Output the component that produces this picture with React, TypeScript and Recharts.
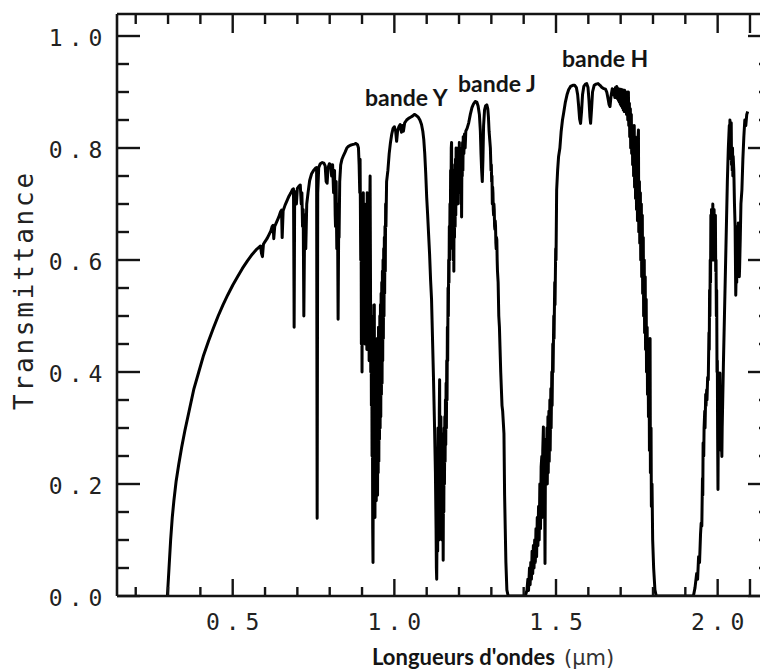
import React from 'react';
import { LineChart, Line, XAxis, YAxis } from 'recharts';

// ---- data (wavelength in µm, transmittance) ----
const visibleRise: [number, number][] = [
  [0.298, 0], [0.303, 0.05], [0.308, 0.1], [0.313, 0.14], [0.318, 0.17], [0.325, 0.205], [0.333, 0.235],
  [0.342, 0.265], [0.352, 0.295], [0.365, 0.33], [0.38, 0.37], [0.395, 0.4], [0.41, 0.43], [0.425, 0.455],
  [0.44, 0.478], [0.455, 0.5], [0.47, 0.52], [0.485, 0.538], [0.5, 0.555], [0.515, 0.57], [0.53, 0.585],
  [0.545, 0.598], [0.56, 0.61], [0.572, 0.618], [0.58, 0.622], [0.586, 0.625], [0.589, 0.612], [0.592, 0.606],
  [0.595, 0.628], [0.6, 0.633], [0.606, 0.638], [0.612, 0.645], [0.618, 0.652], [0.622, 0.66], [0.625, 0.662],
  [0.627, 0.638], [0.63, 0.66], [0.636, 0.668], [0.642, 0.676], [0.648, 0.686], [0.651, 0.689], [0.653, 0.64],
  [0.656, 0.688], [0.662, 0.698], [0.668, 0.706], [0.674, 0.714], [0.68, 0.72], [0.685, 0.726], [0.688, 0.727],
];

const redAbsorption: [number, number][] = [
  [0.6895, 0.55], [0.69, 0.48], [0.6915, 0.7], [0.693, 0.722], [0.697, 0.7], [0.7, 0.728], [0.705, 0.732],
  [0.709, 0.734], [0.712, 0.7], [0.714, 0.72], [0.716, 0.66], [0.718, 0.69], [0.72, 0.5], [0.7215, 0.6],
  [0.723, 0.68], [0.726, 0.62], [0.729, 0.7], [0.733, 0.72], [0.738, 0.742], [0.744, 0.754], [0.75, 0.76],
  [0.756, 0.764], [0.7595, 0.765], [0.7612, 0.139], [0.763, 0.72], [0.766, 0.765], [0.771, 0.772],
  [0.777, 0.774], [0.782, 0.773], [0.786, 0.768], [0.789, 0.74], [0.792, 0.737], [0.795, 0.765],
  [0.799, 0.772], [0.803, 0.77], [0.806, 0.75], [0.809, 0.77], [0.812, 0.72], [0.815, 0.76], [0.817, 0.68],
  [0.818, 0.66], [0.82, 0.74], [0.821, 0.67], [0.822, 0.62], [0.824, 0.7], [0.825, 0.6], [0.826, 0.494],
  [0.828, 0.68], [0.829, 0.64], [0.831, 0.74], [0.834, 0.77],
  [0.838, 0.78], [0.843, 0.787], [0.848, 0.793], [0.853, 0.8], [0.858, 0.803], [0.864, 0.805], [0.87, 0.806],
  [0.876, 0.807], [0.881, 0.808], [0.886, 0.806], [0.889, 0.8], [0.891, 0.77],
  [0.893, 0.72], [0.894, 0.78], [0.896, 0.6], [0.897, 0.7], [0.898, 0.45], [0.899, 0.62], [0.9, 0.4],
  [0.901, 0.6], [0.902, 0.7], [0.903, 0.5], [0.904, 0.72], [0.905, 0.48], [0.906, 0.66], [0.907, 0.5],
  [0.908, 0.7], [0.909, 0.45], [0.91, 0.62], [0.911, 0.46], [0.912, 0.68], [0.913, 0.5], [0.914, 0.64],
  [0.915, 0.44], [0.916, 0.72], [0.917, 0.5], [0.918, 0.44], [0.919, 0.66], [0.92, 0.45], [0.921, 0.6],
  [0.922, 0.42], [0.923, 0.66], [0.924, 0.7], [0.925, 0.75], [0.926, 0.6], [0.927, 0.4], [0.928, 0.52],
  [0.929, 0.34], [0.93, 0.5], [0.931, 0.25], [0.932, 0.4], [0.933, 0.12], [0.934, 0.06], [0.935, 0.3],
  [0.936, 0.42], [0.937, 0.2], [0.938, 0.52], [0.939, 0.25], [0.94, 0.14], [0.941, 0.4], [0.942, 0.2],
  [0.943, 0.44], [0.944, 0.17], [0.945, 0.4], [0.946, 0.2], [0.947, 0.46], [0.948, 0.18], [0.949, 0.42],
  [0.95, 0.22], [0.951, 0.48], [0.952, 0.24], [0.953, 0.46], [0.954, 0.28], [0.955, 0.5], [0.956, 0.3],
  [0.957, 0.52], [0.958, 0.32], [0.959, 0.54], [0.96, 0.36], [0.961, 0.56], [0.962, 0.38], [0.963, 0.58],
  [0.964, 0.42], [0.965, 0.6], [0.966, 0.46], [0.967, 0.62], [0.968, 0.5], [0.969, 0.64], [0.97, 0.54],
  [0.971, 0.66], [0.972, 0.58], [0.973, 0.7], [0.974, 0.66], [0.976, 0.74], [0.98, 0.76], [0.984, 0.79],
  [0.988, 0.81], [0.992, 0.825], [0.996, 0.835],
];

const bandY: [number, number][] = [
  [1.0, 0.838], [1.004, 0.83], [1.007, 0.812], [1.01, 0.83], [1.014, 0.838], [1.018, 0.842], [1.022, 0.828],
  [1.025, 0.84], [1.028, 0.83], [1.032, 0.845], [1.038, 0.85], [1.044, 0.853], [1.05, 0.855], [1.056, 0.857],
  [1.062, 0.86], [1.068, 0.858], [1.074, 0.855], [1.079, 0.85], [1.084, 0.842], [1.088, 0.83], [1.091, 0.815],
  [1.094, 0.79], [1.097, 0.755], [1.1, 0.712], [1.103, 0.68], [1.106, 0.645], [1.109, 0.61], [1.112, 0.565],
  [1.115, 0.53], [1.118, 0.46], [1.121, 0.39], [1.124, 0.31], [1.127, 0.22], [1.129, 0.12], [1.13, 0.05],
  [1.131, 0.03], [1.132, 0.12], [1.133, 0.2], [1.134, 0.08], [1.135, 0.3], [1.136, 0.15], [1.137, 0.26],
  [1.138, 0.1], [1.139, 0.33], [1.14, 0.386], [1.141, 0.2], [1.142, 0.3], [1.143, 0.12], [1.144, 0.32],
  [1.145, 0.18], [1.146, 0.29], [1.147, 0.1], [1.148, 0.26], [1.149, 0.12], [1.15, 0.2], [1.151, 0.064],
  [1.152, 0.22], [1.153, 0.15], [1.154, 0.3], [1.155, 0.2], [1.156, 0.32], [1.157, 0.24], [1.158, 0.35],
  [1.159, 0.27], [1.16, 0.38], [1.161, 0.3], [1.162, 0.42], [1.163, 0.35], [1.164, 0.48], [1.165, 0.42],
  [1.166, 0.55], [1.167, 0.5], [1.168, 0.6], [1.169, 0.56], [1.17, 0.66], [1.171, 0.6], [1.172, 0.7],
  [1.173, 0.62], [1.174, 0.76], [1.175, 0.68], [1.176, 0.8], [1.177, 0.81], [1.178, 0.66], [1.179, 0.74],
  [1.18, 0.62], [1.181, 0.76], [1.182, 0.6], [1.183, 0.72], [1.184, 0.58], [1.185, 0.74], [1.186, 0.64],
  [1.187, 0.77], [1.188, 0.66], [1.189, 0.78], [1.19, 0.68], [1.191, 0.8], [1.192, 0.7], [1.193, 0.796],
  [1.194, 0.72], [1.195, 0.79], [1.196, 0.7], [1.197, 0.8], [1.198, 0.73], [1.199, 0.8], [1.2, 0.74],
  [1.201, 0.81], [1.202, 0.74], [1.203, 0.8], [1.204, 0.72], [1.205, 0.79], [1.206, 0.7], [1.207, 0.78],
  [1.208, 0.677], [1.209, 0.79], [1.21, 0.75], [1.211, 0.81], [1.212, 0.76], [1.213, 0.82], [1.215, 0.79],
  [1.217, 0.825], [1.219, 0.8], [1.221, 0.83],
];

const bandJ: [number, number][] = [
  [1.225, 0.835], [1.23, 0.845], [1.235, 0.86], [1.24, 0.872], [1.245, 0.879], [1.25, 0.883], [1.255, 0.882],
  [1.259, 0.875], [1.263, 0.86], [1.266, 0.83], [1.268, 0.79], [1.27, 0.76], [1.272, 0.74], [1.274, 0.78],
  [1.276, 0.84], [1.279, 0.868], [1.282, 0.875], [1.286, 0.877], [1.289, 0.87], [1.291, 0.855], [1.293, 0.83],
  [1.295, 0.815], [1.297, 0.8], [1.298, 0.78], [1.299, 0.76], [1.3, 0.77], [1.301, 0.74], [1.302, 0.75],
  [1.303, 0.7], [1.304, 0.73], [1.305, 0.72], [1.306, 0.69], [1.307, 0.68], [1.308, 0.7], [1.309, 0.69],
  [1.31, 0.66], [1.311, 0.655], [1.312, 0.67], [1.313, 0.66], [1.314, 0.63], [1.315, 0.62], [1.316, 0.64],
  [1.317, 0.636], [1.318, 0.6], [1.319, 0.58], [1.321, 0.56], [1.323, 0.5], [1.325, 0.48], [1.327, 0.44],
  [1.329, 0.4], [1.331, 0.37], [1.333, 0.34], [1.335, 0.33], [1.337, 0.31], [1.339, 0.29], [1.341, 0.18],
  [1.343, 0.12], [1.345, 0.06], [1.348, 0.011], [1.352, 0],
  [1.405, 0], [1.41, 0.01], [1.413, 0.03], [1.415, 0.01], [1.418, 0.05], [1.42, 0.02], [1.422, 0.06],
  [1.424, 0.03], [1.426, 0.08], [1.428, 0.04], [1.43, 0.09], [1.432, 0.05], [1.434, 0.1], [1.436, 0.06],
  [1.438, 0.12], [1.44, 0.07], [1.442, 0.14], [1.444, 0.09], [1.446, 0.16], [1.448, 0.1], [1.45, 0.2],
  [1.452, 0.12], [1.454, 0.23], [1.456, 0.249], [1.457, 0.14], [1.459, 0.26], [1.461, 0.302], [1.462, 0.18],
  [1.464, 0.26], [1.466, 0.058], [1.467, 0.2], [1.469, 0.28], [1.47, 0.2], [1.472, 0.3], [1.473, 0.2],
  [1.475, 0.32], [1.476, 0.22], [1.478, 0.33], [1.479, 0.24], [1.481, 0.35], [1.482, 0.26], [1.484, 0.37],
  [1.485, 0.3], [1.487, 0.4], [1.488, 0.34], [1.49, 0.45], [1.491, 0.4], [1.493, 0.5], [1.494, 0.46],
  [1.496, 0.56], [1.497, 0.52], [1.499, 0.62], [1.5, 0.6], [1.502, 0.725], [1.505, 0.76], [1.508, 0.785],
];

const bandH: [number, number][] = [
  [1.512, 0.8], [1.516, 0.83], [1.52, 0.85], [1.524, 0.864], [1.529, 0.882], [1.534, 0.895], [1.539, 0.904],
  [1.545, 0.91], [1.552, 0.912], [1.558, 0.912], [1.563, 0.908], [1.567, 0.895], [1.57, 0.875], [1.573, 0.852],
  [1.576, 0.844], [1.579, 0.865], [1.582, 0.895], [1.586, 0.91], [1.591, 0.914], [1.595, 0.915], [1.599, 0.908],
  [1.602, 0.885], [1.605, 0.855], [1.607, 0.844], [1.61, 0.87], [1.613, 0.9], [1.618, 0.912], [1.624, 0.914],
  [1.63, 0.915], [1.636, 0.912], [1.642, 0.908], [1.648, 0.906], [1.653, 0.905], [1.657, 0.9], [1.661, 0.888],
  [1.664, 0.878], [1.667, 0.874], [1.67, 0.892], [1.674, 0.906], [1.677, 0.895], [1.679, 0.904], [1.682, 0.89],
  [1.684, 0.908], [1.686, 0.892], [1.688, 0.91], [1.69, 0.888], [1.691, 0.9], [1.693, 0.885], [1.694, 0.906],
  [1.696, 0.882], [1.697, 0.9], [1.699, 0.878], [1.7, 0.905], [1.702, 0.875], [1.703, 0.9], [1.705, 0.872],
  [1.706, 0.904], [1.708, 0.868], [1.709, 0.9], [1.711, 0.865], [1.712, 0.903], [1.714, 0.87], [1.716, 0.9],
  [1.718, 0.86], [1.72, 0.9], [1.722, 0.85], [1.724, 0.9], [1.725, 0.84], [1.727, 0.88], [1.728, 0.82],
  [1.73, 0.87], [1.731, 0.8], [1.733, 0.86], [1.734, 0.79], [1.736, 0.84], [1.737, 0.77], [1.739, 0.83],
  [1.74, 0.75], [1.742, 0.84], [1.743, 0.73], [1.745, 0.82], [1.746, 0.71], [1.748, 0.8], [1.749, 0.69],
  [1.751, 0.8], [1.752, 0.67], [1.754, 0.82], [1.755, 0.832], [1.756, 0.65], [1.758, 0.74], [1.759, 0.63],
  [1.761, 0.72], [1.762, 0.6], [1.764, 0.7], [1.765, 0.57], [1.767, 0.68], [1.768, 0.54], [1.77, 0.64],
  [1.771, 0.5], [1.773, 0.6], [1.774, 0.47], [1.776, 0.57], [1.777, 0.44], [1.779, 0.53], [1.78, 0.4],
  [1.782, 0.48], [1.783, 0.36], [1.785, 0.42], [1.786, 0.32], [1.788, 0.4], [1.789, 0.26], [1.791, 0.46],
  [1.792, 0.22], [1.794, 0.3], [1.795, 0.16], [1.797, 0.2], [1.799, 0.1], [1.802, 0.05], [1.806, 0.011],
  [1.81, 0], [1.92, 0],
];

const bandK: [number, number][] = [
  [1.925, 0], [1.93, 0.015], [1.935, 0.04], [1.938, 0.03], [1.941, 0.07], [1.944, 0.06], [1.947, 0.11],
  [1.949, 0.13], [1.951, 0.125], [1.953, 0.21], [1.954, 0.18], [1.955, 0.273], [1.957, 0.25], [1.958, 0.3],
  [1.96, 0.33], [1.961, 0.3], [1.963, 0.36], [1.964, 0.34], [1.966, 0.368], [1.967, 0.35], [1.969, 0.39],
  [1.971, 0.386], [1.973, 0.47], [1.974, 0.44], [1.975, 0.546], [1.976, 0.5], [1.977, 0.6], [1.978, 0.56],
  [1.979, 0.68], [1.98, 0.62], [1.981, 0.69], [1.982, 0.6], [1.983, 0.66], [1.984, 0.62], [1.985, 0.7],
  [1.986, 0.62], [1.987, 0.68], [1.988, 0.6], [1.989, 0.69], [1.99, 0.62], [1.991, 0.66], [1.992, 0.6],
  [1.993, 0.68], [1.994, 0.58], [1.995, 0.6], [1.996, 0.5], [1.997, 0.546], [1.998, 0.4], [1.999, 0.42],
  [2.0, 0.28], [2.001, 0.19], [2.002, 0.3], [2.003, 0.36], [2.004, 0.26], [2.005, 0.3], [2.006, 0.36],
  [2.007, 0.398], [2.008, 0.3], [2.009, 0.28], [2.01, 0.36], [2.011, 0.34], [2.012, 0.27], [2.013, 0.249],
  [2.014, 0.3], [2.015, 0.33], [2.018, 0.42], [2.021, 0.5], [2.024, 0.58], [2.027, 0.66], [2.03, 0.74],
  [2.033, 0.8], [2.036, 0.84], [2.037, 0.8], [2.038, 0.85], [2.039, 0.8], [2.04, 0.82], [2.041, 0.78],
  [2.042, 0.845], [2.043, 0.77], [2.044, 0.8], [2.045, 0.76], [2.046, 0.8], [2.047, 0.75], [2.048, 0.785],
  [2.05, 0.76], [2.052, 0.7], [2.054, 0.66], [2.056, 0.537], [2.058, 0.6], [2.059, 0.56], [2.06, 0.66],
  [2.061, 0.6], [2.062, 0.62], [2.063, 0.58], [2.064, 0.666], [2.065, 0.6], [2.066, 0.62], [2.067, 0.57],
  [2.068, 0.588], [2.07, 0.64], [2.072, 0.7], [2.075, 0.725], [2.078, 0.78], [2.081, 0.82], [2.084, 0.85],
  [2.087, 0.84], [2.09, 0.86], [2.093, 0.865],
];

// ---- axes ----
const xDomain: [number, number] = [0.1421, 2.165];
const yDomain: [number, number] = [0, 1.0393];
const xLabelTicks = [0.5, 1.0, 1.5, 2.0];
const xLongUnlabeledTicks = [2.1];
const xMinorTicks = [0.2, 0.3, 0.4, 0.6, 0.7, 0.8, 0.9, 1.1, 1.2, 1.3, 1.4, 1.6, 1.7, 1.8, 1.9];
const yLabelTicks = [0, 0.2, 0.4, 0.6, 0.8, 1.0];
const yMinorTicks = [0.05, 0.1, 0.15, 0.25, 0.3, 0.35, 0.45, 0.5, 0.55, 0.65, 0.7, 0.75, 0.85, 0.9, 0.95];

const xAllTicks = [...xLabelTicks, ...xLongUnlabeledTicks, ...xMinorTicks].sort((a, b) => a - b);
const yAllTicks = [...yLabelTicks, ...yMinorTicks].sort((a, b) => a - b);

const data = [...visibleRise, ...redAbsorption, ...bandY, ...bandJ, ...bandH, ...bandK].map(([w, t]) => ({ w, t }));

const INK = '#141414';
const MONO = '"DejaVu Sans Mono", monospace';
const SANS = 'Lato, "Open Sans", sans-serif';
const has = (arr: number[], v: number) => arr.some((a) => Math.abs(a - v) < 1e-6);

const BottomTick = (props: any) => {
  const { x, y, payload } = props;
  const v = payload.value;
  const labeled = has(xLabelTicks, v);
  const long = labeled || has(xLongUnlabeledTicks, v);
  return (
    <g>
      <line x1={x} x2={x} y1={y} y2={y - (long ? 17 : 9)} stroke={INK} strokeWidth={2.4} />
      {labeled && (
        <text x={x + 3} y={y + 34} textAnchor="middle" fontFamily={MONO} fontSize={23} letterSpacing={6} fill="#222">
          {v.toFixed(1)}
        </text>
      )}
    </g>
  );
};

const TopTick = (props: any) => {
  const { x, y, payload } = props;
  const v = payload.value;
  const long = has(xLabelTicks, v) || has(xLongUnlabeledTicks, v);
  return <line x1={x} x2={x} y1={y} y2={y + (long ? 19 : 10)} stroke={INK} strokeWidth={2.4} />;
};

const LeftTick = (props: any) => {
  const { x, y, payload } = props;
  const v = payload.value;
  const major = has(yLabelTicks, v);
  return (
    <g>
      <line x1={x} x2={x + (major ? 23 : 12)} y1={y} y2={y} stroke={INK} strokeWidth={2.4} />
      {major && (
        <text x={x - 8.6} y={y + 10} textAnchor="end" fontFamily={MONO} fontSize={23} letterSpacing={6} fill="#222">
          {v.toFixed(1)}
        </text>
      )}
    </g>
  );
};

const RightTick = (props: any) => {
  const { x, y, payload } = props;
  const v = payload.value;
  const major = has(yLabelTicks, v);
  return <line x1={x} x2={x - (major ? 23 : 12)} y1={y} y2={y} stroke={INK} strokeWidth={2.4} />;
};

const YTitle = () => (
  <text
    x={33}
    y={290}
    transform="rotate(-90 33 290)"
    textAnchor="middle"
    fontFamily={MONO}
    fontSize={26}
    letterSpacing={2.8}
    fill="#222"
  >
    Transmittance
  </text>
);

const XTitle = () => (
  <g>
    <text x={372} y={665} fontFamily={SANS} fontWeight={700} fontSize={22} fill={INK}>
      Longueurs d'ondes
    </text>
    <text x={564} y={665} fontFamily='"DejaVu Sans", sans-serif' fontSize={21} fill="#333">
      (µm)
    </text>
  </g>
);

const BandLabels = () => (
  <g fontFamily={SANS} fontWeight={700} fontSize={23} fill={INK}>
    <text x={365} y={106}>bande Y</text>
    <text x={458} y={92}>bande J</text>
    <text x={562} y={67}>bande H</text>
  </g>
);

export default function App() {
  return (
    <div style={{ position: 'fixed', left: 0, top: 0, width: 760, height: 671, overflow: 'hidden', background: '#fff' }}>
      <LineChart width={800} height={671} data={data} margin={{ top: 14, right: 29, bottom: 0, left: 0 }}>
        <XAxis
          xAxisId="bottom"
          dataKey="w"
          type="number"
          domain={xDomain}
          allowDataOverflow
          ticks={xAllTicks}
          interval={0}
          height={75}
          tickSize={0}
          tickMargin={0}
          tickLine={false}
          tick={<BottomTick />}
          axisLine={{ stroke: INK, strokeWidth: 2.6 }}
          label={XTitle}
        />
        <XAxis
          xAxisId="top"
          dataKey="w"
          type="number"
          orientation="top"
          mirror
          domain={xDomain}
          allowDataOverflow
          ticks={xAllTicks}
          interval={0}
          height={20}
          tickSize={0}
          tickMargin={0}
          tickLine={false}
          tick={<TopTick />}
          axisLine={{ stroke: INK, strokeWidth: 2.6 }}
          label={BandLabels}
        />
        <YAxis
          yAxisId="left"
          type="number"
          domain={yDomain}
          allowDataOverflow
          ticks={yAllTicks}
          interval={0}
          width={117}
          tickSize={0}
          tickMargin={0}
          tickLine={false}
          tick={<LeftTick />}
          axisLine={{ stroke: INK, strokeWidth: 2.6 }}
          label={YTitle}
        />
        <YAxis
          yAxisId="right"
          type="number"
          orientation="right"
          mirror
          domain={yDomain}
          allowDataOverflow
          ticks={yAllTicks}
          interval={0}
          width={1}
          tickSize={0}
          tickMargin={0}
          tickLine={false}
          tick={<RightTick />}
          axisLine={{ stroke: INK, strokeWidth: 2.6 }}
        />
        <Line
          xAxisId="bottom"
          yAxisId="left"
          type="linear"
          dataKey="t"
          dot={false}
          stroke="#000"
          strokeWidth={3}
          strokeLinejoin="round"
          isAnimationActive={false}
        />
      </LineChart>
    </div>
  );
}
